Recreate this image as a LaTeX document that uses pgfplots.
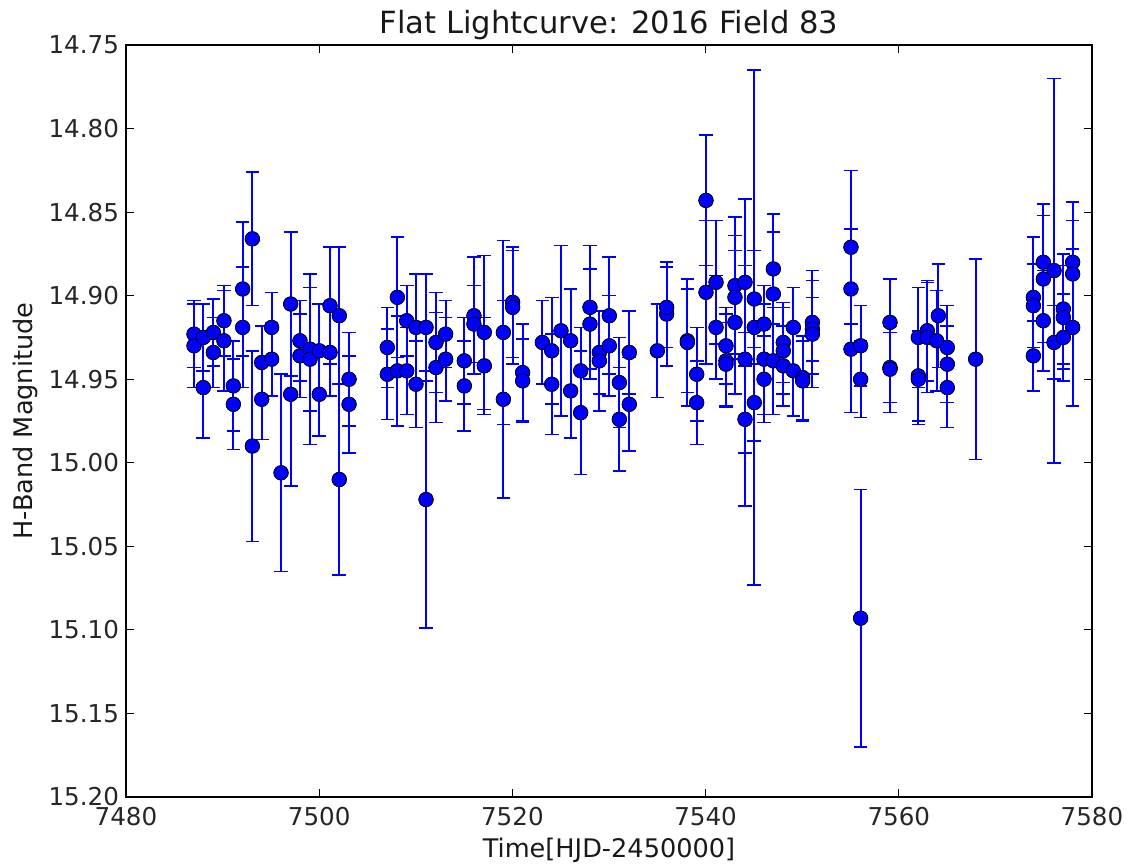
\documentclass[border=0pt]{standalone}
\usepackage{pgfplots}
\pgfplotsset{compat=1.18}
\usepackage{pgfplotstable}
\usepackage{fontspec}
\setmainfont{DejaVu Sans}

\pgfplotstableread{
t m e
7487.04 14.923 0.020
7487.04 14.930 0.025
7488.00 14.925 0.020
7488.00 14.955 0.030
7489.04 14.922 0.020
7489.04 14.934 0.021
7490.14 14.915 0.021
7490.14 14.927 0.030
7491.11 14.954 0.027
7491.11 14.965 0.027
7492.08 14.896 0.040
7492.08 14.919 0.036
7493.08 14.866 0.040
7493.08 14.990 0.057
7494.05 14.940 0.022
7494.05 14.962 0.024
7495.08 14.919 0.021
7495.08 14.938 0.022
7496.05 15.006 0.059
7497.05 14.905 0.043
7497.05 14.959 0.055
7498.01 14.927 0.024
7498.01 14.936 0.025
7499.05 14.932 0.037
7499.05 14.938 0.051
7500.01 14.933 0.028
7500.01 14.959 0.025
7501.12 14.906 0.035
7501.12 14.934 0.026
7502.08 14.912 0.041
7502.08 15.010 0.057
7503.09 14.950 0.028
7503.09 14.965 0.029
7507.05 14.931 0.024
7507.05 14.947 0.027
7508.09 14.901 0.036
7508.09 14.945 0.033
7509.06 14.915 0.021
7509.06 14.945 0.026
7510.02 14.919 0.032
7510.02 14.953 0.026
7511.06 14.919 0.032
7511.06 15.022 0.077
7512.09 14.928 0.030
7512.09 14.943 0.033
7513.09 14.923 0.020
7513.09 14.938 0.025
7515.02 14.939 0.026
7515.02 14.954 0.027
7516.02 14.912 0.035
7516.02 14.917 0.023
7517.09 14.922 0.046
7517.09 14.942 0.029
7519.06 14.922 0.055
7519.06 14.962 0.059
7520.03 14.904 0.033
7520.03 14.907 0.034
7521.06 14.946 0.029
7521.06 14.951 0.025
7523.10 14.928 0.025
7524.07 14.933 0.032
7524.07 14.953 0.030
7525.03 14.921 0.051
7526.03 14.927 0.031
7526.03 14.957 0.028
7527.07 14.945 0.026
7527.07 14.970 0.037
7528.03 14.907 0.037
7528.03 14.917 0.033
7529.00 14.934 0.025
7529.00 14.939 0.030
7530.03 14.912 0.035
7530.03 14.930 0.030
7531.07 14.952 0.027
7531.07 14.974 0.031
7532.10 14.934 0.025
7532.10 14.965 0.028
7535.00 14.933 0.028
7535.97 14.911 0.031
7535.97 14.907 0.024
7538.11 14.927 0.031
7538.11 14.928 0.038
7539.08 14.947 0.028
7539.08 14.964 0.025
7540.04 14.843 0.039
7540.04 14.898 0.043
7541.08 14.892 0.037
7541.08 14.919 0.031
7542.11 14.930 0.023
7542.11 14.939 0.028
7542.11 14.941 0.025
7543.04 14.894 0.041
7543.04 14.901 0.037
7543.04 14.916 0.043
7544.08 14.892 0.050
7544.08 14.938 0.056
7544.08 14.974 0.052
7545.04 14.902 0.029
7545.04 14.919 0.154
7545.04 14.964 0.023
7546.05 14.917 0.023
7546.05 14.938 0.033
7546.05 14.950 0.026
7547.01 14.884 0.033
7547.01 14.899 0.037
7547.01 14.939 0.032
7548.04 14.928 0.024
7548.04 14.933 0.026
7548.04 14.942 0.024
7549.08 14.919 0.024
7549.08 14.945 0.027
7550.05 14.949 0.025
7550.05 14.951 0.024
7551.05 14.916 0.031
7551.05 14.920 0.019
7551.05 14.923 0.032
7555.05 14.871 0.046
7555.05 14.896 0.036
7555.05 14.932 0.038
7556.05 14.930 0.024
7556.05 14.950 0.023
7556.05 15.093 0.077
7559.09 14.916 0.026
7559.09 14.943 0.021
7559.09 14.944 0.026
7562.02 14.925 0.030
7562.02 14.948 0.027
7562.02 14.950 0.027
7562.95 14.921 0.030
7562.95 14.925 0.033
7563.92 14.927 0.030
7564.09 14.912 0.031
7565.02 14.931 0.025
7565.02 14.941 0.023
7565.02 14.955 0.024
7567.96 14.938 0.060
7573.93 14.901 0.036
7573.93 14.906 0.025
7573.93 14.936 0.021
7574.96 14.880 0.035
7574.96 14.890 0.038
7574.96 14.915 0.030
7576.07 14.885 0.115
7576.07 14.928 0.022
7577.03 14.908 0.033
7577.03 14.913 0.031
7577.03 14.925 0.026
7578.00 14.880 0.036
7578.00 14.887 0.032
7578.00 14.919 0.047
}\data

\begin{document}
\begin{tikzpicture}
\begin{axis}[
  name=ax,
  scale only axis, width=483pt, height=376pt,
  xmin=7480, xmax=7580, ymin=14.75, ymax=15.20, y dir=reverse,
  xtick={7480,7500,7520,7540,7560,7580},
  ytick={14.75,14.80,14.85,14.90,14.95,15.00,15.05,15.10,15.15,15.20},
  /pgf/number format/assume math mode=true,
  x tick label style={/pgf/number format/fixed, /pgf/number format/1000 sep={}},
  y tick label style={/pgf/number format/fixed, /pgf/number format/fixed zerofill, /pgf/number format/precision=2},
  tick label style={font=\fontsize{12.3}{14}\selectfont, text=black!85},
  xticklabel style={yshift=-1.5pt},
  tick pos=both, tick align=inside, major tick length=4pt,
  tick style={black, line width=0.5pt},
  axis line style={black, line width=0.8pt},
  title={Flat Lightcurve: 2016 Field 83},
  title style={at={(axis description cs:0.5,1.0)}, anchor=base, font=\fontsize{15.3}{18}\selectfont, text=black!90},
  xlabel={Time[HJD-2450000]},
  xlabel style={at={(axis description cs:0.5,-0.0811)}, anchor=base, font=\fontsize{12.8}{15}\selectfont, text=black!90},
  ylabel={H-Band Magnitude},
  ylabel style={at={(axis description cs:-0.0963,0.5)}, anchor=base, font=\fontsize{12.8}{15}\selectfont, text=black!90},
  clip=false,
]
\addplot[only marks, mark=*, mark size=3.6pt, forget plot,
  mark options={fill=blue, draw=black, line width=0.35pt},
  error bars/.cd, y dir=both, y explicit,
  error bar style={draw=blue, line width=1pt},
  error mark options={rotate=90, draw=blue, line width=0.8pt, mark size=3.4pt}]
  table[x=t, y=m, y error=e]{\data};
\addplot[only marks, mark=*, mark size=3.6pt,
  mark options={fill=blue, draw=black, line width=0.35pt}]
  table[x=t, y=m]{\data};
\end{axis}
\pgfresetboundingbox
\path ([xshift=-63pt,yshift=-34pt]ax.south west) rectangle ([xshift=19pt,yshift=22.5pt]ax.north east);
\end{tikzpicture}
\end{document}
